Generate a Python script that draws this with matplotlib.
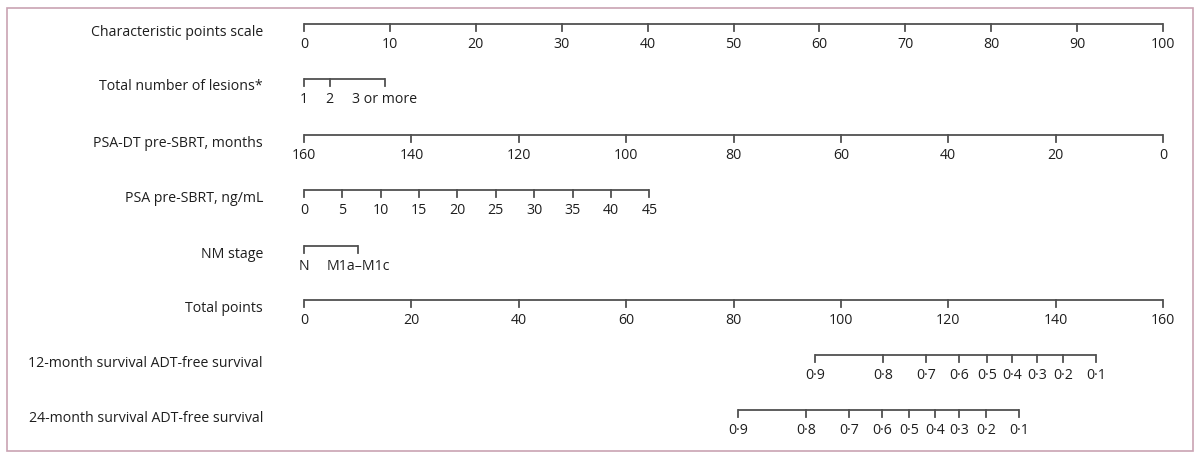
import matplotlib.pyplot as plt
import numpy as np
from matplotlib.patches import Rectangle

plt.rcParams['font.family'] = ['Open Sans', 'DejaVu Sans']

# row names
rows = ['Characteristic points scale', 'Total number of lesions*',
        'PSA-DT pre-SBRT, months', 'PSA pre-SBRT, ng/mL', 'NM stage',
        'Total points', '12-month survival ADT-free survival',
        '24-month survival ADT-free survival']

# characteristic points scale
points_ticks = np.arange(0, 101, 10)

# lesions
lesion_labels = ['1', '2', '3 or more']
lesion_points = [0, 3.0, 9.4]

# PSA doubling time (160 -> 0 points, 0 -> 100 points)
psadt_values = np.arange(160, -1, -20)
psadt_points = (160 - psadt_values) / 160 * 100

# PSA pre-SBRT
psa_values = np.arange(0, 46, 5)
psa_points = psa_values * 40.2 / 45

# NM stage
nm_labels = ['N', 'M1a–M1c']
nm_points = [0, 6.3]

# total points
total_ticks = np.arange(0, 161, 20)

# survival probabilities on the total points scale
surv_labels = ['0·9', '0·8', '0·7', '0·6', '0·5', '0·4', '0·3', '0·2', '0·1']
surv12_total = [95.2, 107.8, 115.9, 122.0, 127.2, 131.9, 136.5, 141.4, 147.5]
surv24_total = [80.8, 93.5, 101.5, 107.7, 112.7, 117.5, 122.0, 127.0, 133.2]

# layout (pixel rows)
row_y = [24, 79, 135, 190, 246, 300, 355, 410]
px = 8.59  # pixels per point
x0 = 304

fig = plt.figure(figsize=(12, 4.61), dpi=100)
ax = fig.add_axes([0, 0, 1, 1])
ax.set_xlim(-x0 / px, (1200 - x0) / px)
ax.set_ylim(461, 0)
ax.axis('off')

lc = '#505050'
tc = '#1e1e1e'
fs = 10.2


def scale(y, pos, labels):
    pos = np.asarray(pos, dtype=float)
    ax.plot([pos.min(), pos.max()], [y, y], color=lc, lw=1.3,
            solid_capstyle='butt')
    for p, lab in zip(pos, labels):
        ax.plot([p, p], [y, y + 7], color=lc, lw=1.3)
        ax.text(p, y + 20.5, lab, ha='center', va='center', fontsize=fs,
                color=tc)


scale(row_y[0], points_ticks, [str(v) for v in points_ticks])
scale(row_y[1], lesion_points, lesion_labels)
scale(row_y[2], psadt_points, [str(v) for v in psadt_values])
scale(row_y[3], psa_points, [str(v) for v in psa_values])
scale(row_y[4], nm_points, nm_labels)
scale(row_y[5], total_ticks * 100 / 160, [str(v) for v in total_ticks])
scale(row_y[6], np.array(surv12_total) * 100 / 160, surv_labels)
scale(row_y[7], np.array(surv24_total) * 100 / 160, surv_labels)

for name, y in zip(rows, row_y):
    ax.text((263 - x0) / px, y + 8, name, ha='right', va='center',
            fontsize=fs, color=tc)

# frame
fig.patches.append(Rectangle((7 / 1200, 1 - 451 / 461), 1186 / 1200, 443 / 461,
                             transform=fig.transFigure, fill=False,
                             edgecolor='#c9a3b3', lw=1.2))

fig.savefig('out.png', dpi=100)
